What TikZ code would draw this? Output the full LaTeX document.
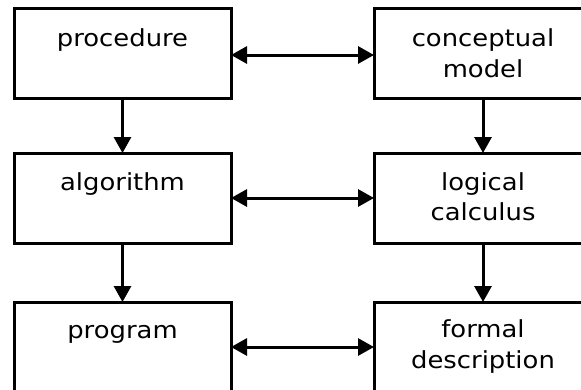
\documentclass[tikz,border=0pt]{standalone}
\usepackage{fontspec}
\usetikzlibrary{arrows.meta}
\newfontfamily\boxfont[FakeStretch=1.1]{DejaVu Sans}
\tikzset{
  box/.style={draw, line width=3pt, minimum width=217pt, minimum height=90pt,
    inner sep=0pt, outer sep=0pt},
  lbl/.style={anchor=base, inner sep=0pt, font=\boxfont\fontsize{23.5}{30.5}\selectfont},
  tip/.tip={Triangle[length=16pt,width=17pt]},
  link/.style={line width=3pt, tip-tip},
  flow/.style={line width=3pt, -tip},
}
\newcommand{\lines}[1]{\begin{tabular}[t]{@{}c@{}}#1\end{tabular}}
\begin{document}
\begin{tikzpicture}[x=1pt,y=-1pt]
\useasboundingbox (0,0) rectangle (581,389);
\clip (0,0) rectangle (581,389);
% boxes
\node[box] (proc) at (122.5,53)  {};
\node[box] (algo) at (122.5,198) {};
\node[box] (prog) at (122.5,347) {};
\node[box, minimum width=218pt] (conc) at (483,53)  {};
\node[box, minimum width=218pt] (logi) at (483,198) {};
\node[box, minimum width=218pt] (form) at (483,347) {};
% labels
\node[lbl] (procT) at ([yshift=-38pt]proc.north) {\lines{procedure}};
\node[lbl] (algoT) at ([yshift=-37pt]algo.north) {\lines{algorithm}};
\node[lbl] (progT) at ([yshift=-36pt]prog.north) {\lines{program}};
\node[lbl] (concT) at ([yshift=-38.5pt]conc.north) {\lines{conceptual\\model}};
\node[lbl] (logiT) at ([yshift=-37pt]logi.north) {\lines{logical\\calculus}};
\node[lbl] (formT) at ([yshift=-35.5pt]form.north) {\lines{formal\\description}};
% connectors
\draw[link] ([yshift=-2pt]proc.east) -- ([yshift=-2pt]conc.west);
\draw[link] (algo.east) -- (logi.west);
\draw[link] (prog.east) -- (form.west);
\draw[flow] (proc.south) -- (algo.north);
\draw[flow] (algo.south) -- (prog.north);
\draw[flow] (conc.south) -- (logi.north);
\draw[flow] (logi.south) -- (form.north);
\end{tikzpicture}
\end{document}
